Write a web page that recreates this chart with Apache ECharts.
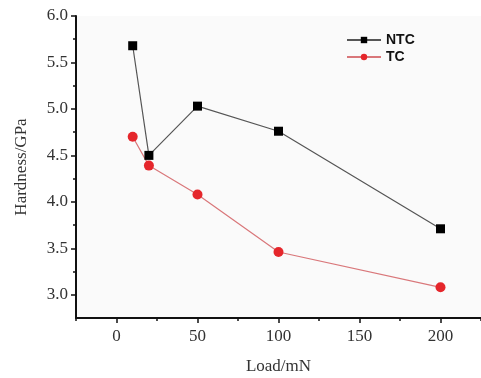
<!DOCTYPE html>
<html><head><meta charset="utf-8">
<script src="https://cdn.jsdelivr.net/npm/echarts@6/dist/echarts.min.js"></script>
<style>html,body{margin:0;padding:0;background:#fff}#c{width:481px;height:378px}</style>
</head><body><div id="c"></div>
<script>
const loads = [10, 20, 50, 100, 200];
const ntc = [5.68, 4.50, 5.03, 4.76, 3.71];
const tc = [4.70, 4.39, 4.08, 3.46, 3.08];
const xTicks = [0, 50, 100, 150, 200];
const xMinor = [-25, 25, 75, 125, 175, 225];
const yTicks = [3.0, 3.5, 4.0, 4.5, 5.0, 5.5, 6.0];
const yMinor = [3.25, 3.75, 4.25, 4.75, 5.25, 5.75];

const chart = echarts.init(document.getElementById('c'));
const serif = 'Liberation Serif';
chart.setOption({
  animation: false,
  backgroundColor: '#fff',
  grid: { left: 76, top: 16, right: 0, bottom: 60, outerBoundsMode: 'none', containLabel: false, show: true, backgroundColor: '#fafafa', borderWidth: 0 },
  legend: {
    orient: 'vertical', left: 341, top: 28, itemWidth: 34, itemHeight: 8, itemGap: 3,
    textStyle: { fontFamily: 'Liberation Sans', fontWeight: 'bold', fontSize: 14, color: '#111' },
    data: ['NTC', 'TC']
  },
  xAxis: [{
    type: 'value', min: -25, max: 225,
    name: 'Load/mN', nameLocation: 'middle', nameGap: 40,
    nameTextStyle: { fontFamily: serif, fontSize: 17, color: '#333' },
    axisLine: { show: true, onZero: false, lineStyle: { color: '#111', width: 2 } },
    axisTick: { show: true, length: 5, customValues: xTicks, lineStyle: { color: '#111', width: 1.5 } },
    axisLabel: { customValues: xTicks, fontFamily: serif, fontSize: 17, color: '#333', margin: 10 },
    splitLine: { show: false }
  }, {
    type: 'value', min: -25, max: 225, position: 'bottom',
    axisLine: { show: false, onZero: false },
    axisTick: { show: true, length: 3, customValues: xMinor, lineStyle: { color: '#111', width: 1.5 } },
    axisLabel: { show: false }, splitLine: { show: false }
  }],
  yAxis: [{
    type: 'value', min: 2.75, max: 6.0,
    name: 'Hardness/GPa', nameLocation: 'middle', nameGap: 46,
    nameTextStyle: { fontFamily: serif, fontSize: 17, color: '#333' },
    axisLine: { show: true, onZero: false, lineStyle: { color: '#111', width: 2 } },
    axisTick: { show: true, length: 5, customValues: yTicks, lineStyle: { color: '#111', width: 1.5 } },
    axisLabel: { customValues: yTicks, formatter: v => v.toFixed(1), fontFamily: serif, fontSize: 17, color: '#333', margin: 8 },
    splitLine: { show: false }
  }, {
    type: 'value', min: 2.75, max: 6.0, position: 'left',
    axisLine: { show: false, onZero: false },
    axisTick: { show: true, length: 3, customValues: yMinor, lineStyle: { color: '#111', width: 1.5 } },
    axisLabel: { show: false }, splitLine: { show: false }
  }],
  series: [{
    name: 'NTC', type: 'line', symbol: 'rect', symbolSize: 9,
    data: loads.map((x, i) => [x, ntc[i]]),
    lineStyle: { color: '#555', width: 1.2 },
    itemStyle: { color: '#000', borderWidth: 0 }
  }, {
    name: 'TC', type: 'line', symbol: 'circle', symbolSize: 10,
    data: loads.map((x, i) => [x, tc[i]]),
    lineStyle: { color: '#d9777a', width: 1.2 },
    itemStyle: { color: '#e5262b', borderWidth: 0 }
  }]
});
</script></body></html>
